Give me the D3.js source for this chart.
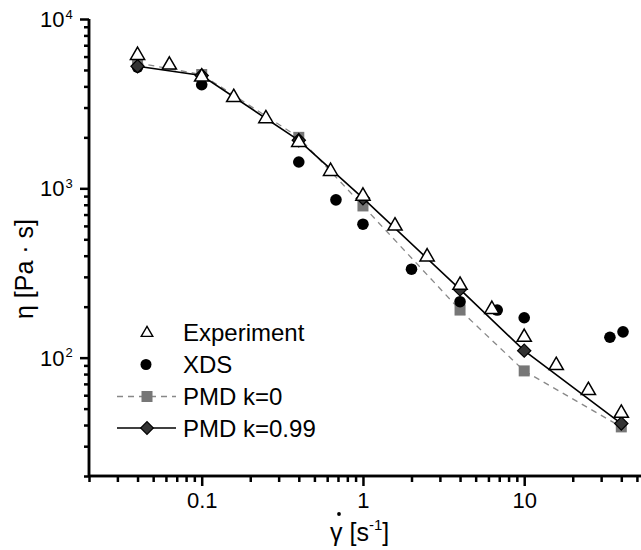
<!DOCTYPE html>
<html>
<head>
<meta charset="utf-8">
<script src="https://cdn.jsdelivr.net/npm/d3@7"></script>
<style>
  body { margin: 0; background: #fff; }
  svg { font-family: "Liberation Sans", Arial, sans-serif; }
</style>
</head>
<body>
<svg id="chart" width="641" height="550"></svg>
<script>
// shear rate vs viscosity, log-log
const expRate = [0.04, 0.063, 0.1, 0.158, 0.25, 0.4, 0.63, 1, 1.58, 2.5, 4, 6.3, 10, 15.8, 25, 40];
const expVisc = [6100, 5350, 4550, 3440, 2580, 1870, 1260, 900, 600, 394, 268, 193, 132, 90, 64, 47];

const xdsRate = [0.04, 0.1, 0.4, 0.68, 1, 2, 4, 6.8, 10, 34, 41];
const xdsVisc = [5200, 4090, 1430, 855, 614, 333, 214, 191, 172, 132, 142];

const pmdRate = [0.04, 0.1, 0.4, 1, 4, 10, 40];
const pmd0Visc = [5500, 4700, 2000, 787, 191, 83.5, 39];
const pmd99Visc = [5260, 4640, 1920, 875, 253, 110, 40.8];

const xMajor = [0.1, 1, 10];
const xMajorLabels = ['0.1', '1', '10'];
const yMajor = [100, 1000, 10000];
const yMajorExp = ['2', '3', '4'];

const svg = d3.select('#chart');

const x = d3.scaleLog().domain([0.02, 53]).range([89, 641]);
const y = d3.scaleLog().domain([20, 10000]).range([476, 19]);

// minor ticks 2..9 per decade
function minorTicks(lo, hi) {
  const out = [];
  for (let p = -3; p <= 4; p++) {
    for (let m = 2; m <= 9; m++) {
      const v = m * Math.pow(10, p);
      if (v >= lo && v <= hi) out.push(v);
    }
  }
  return out;
}

// plot data first, axes on top
const expPts = expRate.map((r, i) => ({ x: r, y: expVisc[i] }));
const xdsPts = xdsRate.map((r, i) => ({ x: r, y: xdsVisc[i] }));
const pmd0Pts = pmdRate.map((r, i) => ({ x: r, y: pmd0Visc[i] }));
const pmd99Pts = pmdRate.map((r, i) => ({ x: r, y: pmd99Visc[i] }));

const line = d3.line().x(d => x(d.x)).y(d => y(d.y));

const tri = d3.symbol().type(d3.symbolTriangle).size(88);
// diamond = square turned 45 deg
const dia = d3.symbol().type(d3.symbolSquare).size(88);

// k=0 dashed line + squares
svg.append('path')
  .attr('d', line(pmd0Pts))
  .attr('fill', 'none')
  .attr('stroke', '#888')
  .attr('stroke-width', 1.3)
  .attr('stroke-dasharray', '6,5');

svg.selectAll('.sq').data(pmd0Pts).enter().append('rect')
  .attr('x', d => x(d.x) - 5.5)
  .attr('y', d => y(d.y) - 5.5)
  .attr('width', 11).attr('height', 11)
  .attr('fill', '#777');

// XDS circles
svg.selectAll('.xds').data(xdsPts).enter().append('circle')
  .attr('cx', d => x(d.x)).attr('cy', d => y(d.y))
  .attr('r', 5.8).attr('fill', '#000');

// k=0.99 solid line + diamonds
svg.append('path')
  .attr('d', line(pmd99Pts))
  .attr('fill', 'none')
  .attr('stroke', '#000')
  .attr('stroke-width', 1.6);

svg.selectAll('.dia').data(pmd99Pts).enter().append('path')
  .attr('d', dia)
  .attr('transform', d => `translate(${x(d.x)},${y(d.y)}) rotate(45)`)
  .attr('fill', '#333').attr('stroke', '#000').attr('stroke-width', 1.2);

// experiment triangles
svg.selectAll('.exp').data(expPts).enter().append('path')
  .attr('d', tri)
  .attr('transform', d => `translate(${x(d.x)},${y(d.y)})`)
  .attr('fill', '#fff').attr('stroke', '#000').attr('stroke-width', 1.5);

// axes
const xAxis = svg.append('g').attr('transform', 'translate(0,476)');
xAxis.call(d3.axisBottom(x).tickValues(minorTicks(0.02, 53)).tickSize(6).tickFormat(''));
xAxis.call(g => g.append('g').call(d3.axisBottom(x).tickValues(xMajor).tickSize(10)
  .tickFormat((d, i) => xMajorLabels[i])));
xAxis.selectAll('.domain').attr('d', 'M89,0H641');
xAxis.selectAll('line').attr('stroke-width', 2.5);
xAxis.selectAll('.domain').attr('stroke-width', 2.5);
xAxis.selectAll('text').attr('font-size', 22).attr('fill', '#000').attr('dy', '0.88em')
  .attr('font-family', '"Liberation Sans", Arial, sans-serif');

const yAxis = svg.append('g').attr('transform', 'translate(89,0)');
yAxis.call(d3.axisLeft(y).tickValues(minorTicks(20, 10000)).tickSize(5).tickFormat(''));
yAxis.call(g => g.append('g').call(d3.axisLeft(y).tickValues(yMajor).tickSize(9).tickFormat('')));
yAxis.selectAll('.domain').attr('d', 'M0,19V476');
yAxis.selectAll('line').attr('stroke-width', 2.5);
yAxis.selectAll('.domain').attr('stroke-width', 2.5);

// y labels 10^n
yMajor.forEach((v, i) => {
  svg.append('text')
    .attr('x', 64.5).attr('y', y(v) + 8)
    .attr('text-anchor', 'end')
    .attr('font-size', 22)
    .text('10');
  svg.append('text')
    .attr('x', 65.5).attr('y', y(v) - 0.5)
    .attr('font-size', 13)
    .text(yMajorExp[i]);
});

// axis titles
const xt = svg.append('text').attr('x', 330).attr('y', 541).attr('font-size', 25);
xt.append('tspan').text('γ [s');
xt.append('tspan').attr('font-size', 15).attr('dy', -11).text('-1');
xt.append('tspan').attr('dy', 11).text(']');
svg.append('circle').attr('cx', 339).attr('cy', 514).attr('r', 1.9).attr('fill', '#000');

svg.append('text')
  .attr('transform', 'translate(33,269) rotate(-90)')
  .attr('text-anchor', 'middle')
  .attr('font-size', 25)
  .text('η [Pa · s]');

// legend
const legendRows = [
  { label: 'Experiment', y: 332 },
  { label: 'XDS', y: 364 },
  { label: 'PMD k=0', y: 396.5 },
  { label: 'PMD k=0.99', y: 428 }
];
const lg = svg.append('g');
legendRows.forEach(r => {
  lg.append('text').attr('x', 183).attr('y', r.y + 8.5).attr('font-size', 24).text(r.label);
});
lg.append('path').attr('d', d3.symbol().type(d3.symbolTriangle).size(58)())
  .attr('transform', 'translate(147,333)')
  .attr('fill', '#fff').attr('stroke', '#000').attr('stroke-width', 1.4);
lg.append('circle').attr('cx', 146).attr('cy', 364.5).attr('r', 5.5).attr('fill', '#000');
lg.append('line').attr('x1', 117).attr('x2', 176).attr('y1', 396.5).attr('y2', 396.5)
  .attr('stroke', '#888').attr('stroke-width', 1.3).attr('stroke-dasharray', '6,5');
lg.append('rect').attr('x', 141.5).attr('y', 391).attr('width', 11).attr('height', 11).attr('fill', '#777');
lg.append('line').attr('x1', 117).attr('x2', 176).attr('y1', 428).attr('y2', 428)
  .attr('stroke', '#000').attr('stroke-width', 1.6);
lg.append('path').attr('d', d3.symbol().type(d3.symbolSquare).size(80)())
  .attr('transform', 'translate(147,428) rotate(45)')
  .attr('fill', '#333').attr('stroke', '#000').attr('stroke-width', 1.2);
</script>
</body>
</html>
